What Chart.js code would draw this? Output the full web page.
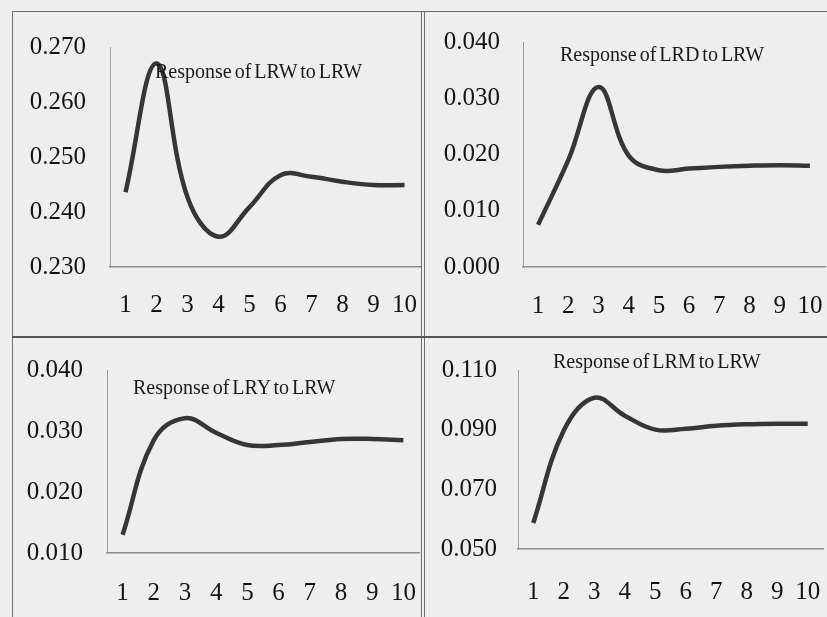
<!DOCTYPE html>
<html>
<head>
<meta charset="utf-8">
<script src="https://cdn.jsdelivr.net/npm/chart.js@4"></script>
<style>
    body { margin: 0; background: #efeeea; }
    #page { position: relative; width: 827px; height: 617px; overflow: hidden; background: #efeeea; }
    canvas { position: absolute; }
    .titre { position: absolute; font-family: "Liberation Serif", serif; font-size: 20px; color: #1a1a1a; word-spacing: -2px; white-space: nowrap; }
    .trait { position: absolute; background: #6e6e6e; }
</style>
</head>
<body>
<div id="page">
    <div class="trait" style="left:12px; top:11px; width:815px; height:1px;"></div>
    <div class="trait" style="left:12px; top:11px; width:1px; height:606px;"></div>
    <div class="trait" style="left:421px; top:11px; width:1px; height:606px;"></div>
    <div class="trait" style="left:424px; top:11px; width:1px; height:606px;"></div>
    <div class="trait" style="left:12px; top:336px; width:815px; height:2px; background:#555;"></div>

    <canvas id="c1" width="410" height="325" style="left:12px; top:12px;"></canvas>
    <canvas id="c2" width="403" height="325" style="left:424px; top:12px;"></canvas>
    <canvas id="c3" width="410" height="278" style="left:12px; top:339px;"></canvas>
    <canvas id="c4" width="403" height="278" style="left:424px; top:339px;"></canvas>

    <div class="titre" style="left:155px; top:60px;">Response of LRW to LRW</div>
    <div class="titre" style="left:560px; top:43px;">Response of LRD to LRW</div>
    <div class="titre" style="left:133px; top:376px;">Response of LRY to LRW</div>
    <div class="titre" style="left:553px; top:350px;">Response of LRM to LRW</div>
</div>
<script>
// Périodes (axe horizontal)
const periods = ['1', '2', '3', '4', '5', '6', '7', '8', '9', '10'];

// Réponses
const lrwToLrw = [0.2436, 0.2670, 0.2427, 0.2355, 0.2409, 0.2467, 0.2464, 0.2455, 0.2449, 0.2449];
const lrdToLrw = [0.0075, 0.0190, 0.0320, 0.0198, 0.0172, 0.0175, 0.0178, 0.0180, 0.0181, 0.0180];
const lryToLrw = [0.0130, 0.0285, 0.0321, 0.0297, 0.0277, 0.0277, 0.0282, 0.0287, 0.0287, 0.0285];
const lrmToLrw = [0.0587, 0.0897, 0.1007, 0.0947, 0.0900, 0.0903, 0.0913, 0.0918, 0.0920, 0.0920];

// Graduations de l'axe vertical (min, max, pas)
const yTicksLrw = [0.230, 0.270, 0.010];
const yTicksLrd = [0.000, 0.040, 0.010];
const yTicksLry = [0.010, 0.040, 0.010];
const yTicksLrm = [0.050, 0.110, 0.020];

const fontTicks = { family: 'Liberation Serif', size: 25 };

function makeChart(id, values, yTicks, box) {
    const ctx = document.getElementById(id).getContext('2d');
    return new Chart(ctx, {
        type: 'line',
        data: {
            labels: periods,
            datasets: [{
                data: values,
                fill: false,
                borderColor: '#363636',
                borderWidth: 4.5,
                pointRadius: 0,
                tension: 0.4
            }]
        },
        options: {
            responsive: false,
            animation: false,
            layout: { padding: { top: box.top, right: box.right, left: 0, bottom: 0 } },
            plugins: { legend: { display: false }, tooltip: { enabled: false } },
            scales: {
                x: {
                    offset: true,
                    // l'écart des étiquettes passe par tickLength (traits invisibles)
                    grid: { drawOnChartArea: false, color: 'rgba(0,0,0,0)', tickLength: box.xPad },
                    border: { color: '#8a8a8a', width: 1.5 },
                    ticks: { color: '#141414', font: fontTicks, padding: 0, maxRotation: 0, autoSkip: false },
                    afterFit: function (scale) { scale.height = box.xHeight; }
                },
                y: {
                    min: yTicks[0],
                    max: yTicks[1],
                    grid: { drawOnChartArea: false, color: 'rgba(0,0,0,0)', tickLength: box.yPad },
                    border: { color: '#a0a0a0', width: 1 },
                    ticks: {
                        stepSize: yTicks[2],
                        color: '#141414',
                        font: fontTicks,
                        padding: 0,
                        callback: function (v) { return Number(v).toFixed(3); }
                    },
                    afterFit: function (scale) { scale.width = box.yWidth; }
                }
            }
        }
    });
}

makeChart('c1', lrwToLrw, yTicksLrw, { top: 35, right: 2, xHeight: 70, xPad: 23, yWidth: 98, yPad: 24 });
makeChart('c2', lrdToLrw, yTicksLrd, { top: 30, right: 2, xHeight: 70, xPad: 24, yWidth: 99, yPad: 23 });
makeChart('c3', lryToLrw, yTicksLry, { top: 31, right: 3, xHeight: 64, xPad: 25, yWidth: 95, yPad: 24 });
makeChart('c4', lrmToLrw, yTicksLrm, { top: 31, right: 4, xHeight: 68, xPad: 28, yWidth: 94, yPad: 21 });
</script>
</body>
</html>
